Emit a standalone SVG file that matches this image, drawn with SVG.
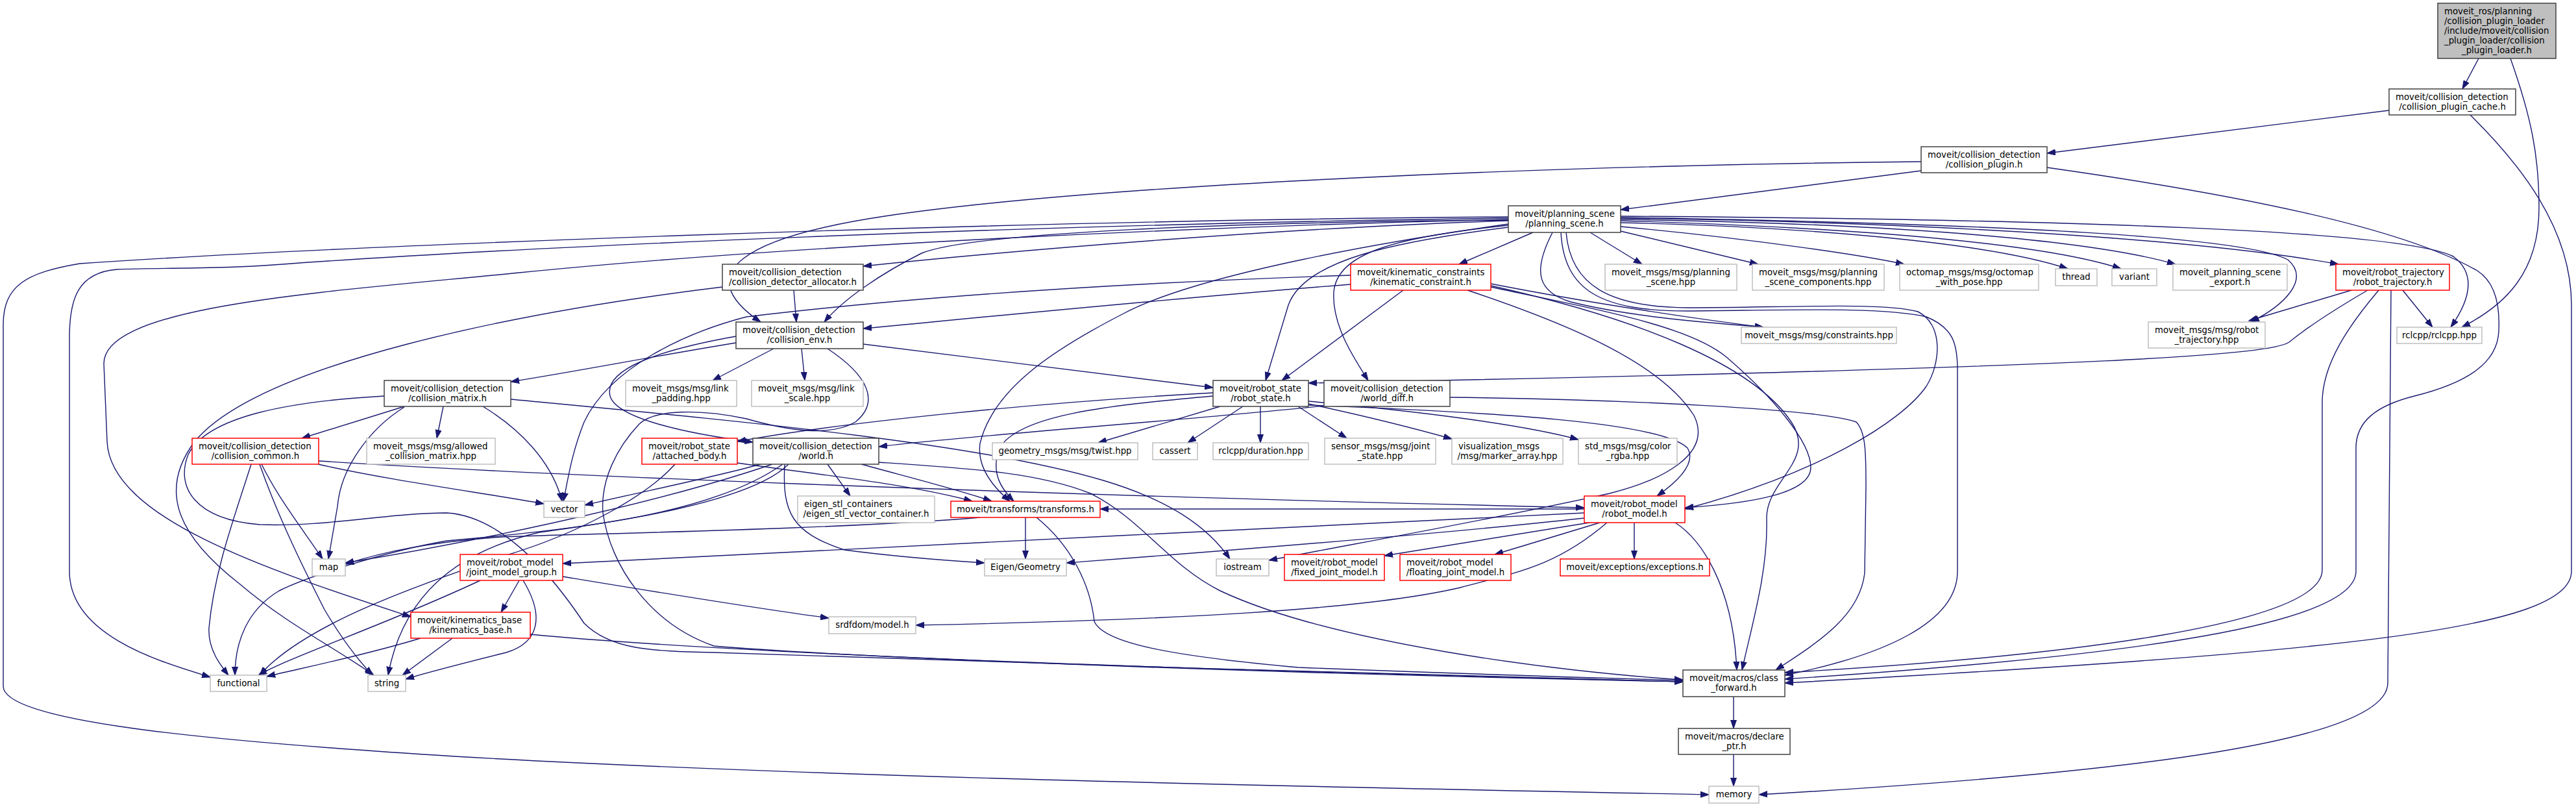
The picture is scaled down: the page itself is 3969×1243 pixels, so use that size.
<svg xmlns="http://www.w3.org/2000/svg" width="3969" height="1243" viewBox="0 0 3969 1243">
<style>
text{font-family:"DejaVu Sans","Liberation Sans",sans-serif;font-size:13.3px;fill:#000}
.m{text-anchor:middle}
.n rect{fill:#fff;stroke:#404040;stroke-width:1.5}
.g rect{fill:#fff;stroke:#bfbfbf;stroke-width:1.5}
.r rect{fill:#fff;stroke:#ff0000;stroke-width:1.5}
.s rect{fill:#bfbfbf;stroke:#404040;stroke-width:1.5}
#edges path{fill:none;stroke:#191970;stroke-width:1.4;marker-end:url(#a)}
</style>
<defs>
<marker id="a" markerUnits="userSpaceOnUse" markerWidth="14" markerHeight="10" refX="13" refY="5" orient="auto"><path d="M0,0.5 L13,5 L0,9.5 z" fill="#191970" stroke="#191970" stroke-width="1"/></marker>
</defs>
<rect x="0" y="0" width="3969" height="1243" fill="#fff"/>
<g id="edges">
<path d="M3819,90 L3794,137"/>
<path d="M3868,90 C3900,180 3912,240 3912,320 C3912,420 3860,470 3793,504"/>
<path d="M3681,170 L3154,236"/>
<path d="M3806,177 C3880,250 3962,350 3962,470 L3962,880 C3962,970 3600,1005 2750,1052"/>
<path d="M2960,263 L2497,323"/>
<path d="M2960,249 C2400,255 1700,283 1363,333 C1150,365 1060,420 1172,496"/>
<path d="M3154,258 C3450,300 3700,350 3817,417 C3845,435 3852,470 3850,510 C3848,560 3800,590 3720,610 C3660,625 3630,650 3630,690 L3630,880 C3630,960 3300,1010 2750,1046"/>
<path d="M2450,358 L2530,407"/>
<path d="M2497,356 L2709,407"/>
<path d="M2497,349 C2700,368 2870,393 2934,407"/>
<path d="M2497,343 C2800,350 3070,375 3186,414"/>
<path d="M2497,340 C2900,352 3160,378 3268,414"/>
<path d="M2497,338 C2950,345 3230,372 3352,407"/>
<path d="M2497,336 C3000,343 3400,370 3603,407"/>
<path d="M2497,333 C3200,338 3700,355 3780,395 C3820,425 3800,470 3776,504"/>
<path d="M2497,335 C3100,345 3460,365 3525,400 C3560,430 3520,470 3468,496"/>
<path d="M2413,358 C2420,440 2480,473 2600,474 C2750,474 2900,465 2955,480 C2995,500 2990,560 2968,595 C2930,650 2800,730 2596,784"/>
<path d="M2405,358 C2410,450 2470,479 2600,479 C2750,478 2900,472 2968,488 C3010,505 3016,530 3016,570 L3016,880 C3016,960 2900,1010 2750,1040"/>
<path d="M2362,358 L2248,407"/>
<path d="M2324,347 C2150,365 2060,390 2055,450 C2052,500 2085,550 2108,586"/>
<path d="M2324,350 C2150,372 2010,400 1985,470 L1950,586"/>
<path d="M2324,345 C2150,370 1850,420 1731,483 C1620,540 1530,600 1510,683 C1505,720 1530,750 1556,772"/>
<path d="M2324,340 C2000,350 1600,382 1330,410"/>
<path d="M2324,339 C1900,342 1500,358 1420,390 C1360,420 1300,460 1270,496"/>
<path d="M2324,338 C1800,350 1200,380 800,420 C500,450 160,470 160,560 L165,680 C170,800 420,880 633,950"/>
<path d="M2324,336 C1600,345 800,380 421,408 C330,415 250,412 180,415 C120,420 107,460 107,520 L107,880 C107,980 250,1020 324,1043"/>
<path d="M2324,334 C1500,340 500,380 123,406 C40,420 5,440 5,500 L5,1057 C5,1110 300,1140 700,1165 C1300,1200 2200,1215 2633,1224"/>
<path d="M2392,358 C2360,420 2370,450 2420,465 C2520,490 2650,498 2717,504"/>
<path d="M2162,447 L1975,586"/>
<path d="M2297,437 C2450,467 2620,492 2717,504"/>
<path d="M2297,442 C2450,475 2600,500 2660,550 C2730,610 2790,680 2790,720 C2790,760 2700,775 2596,782"/>
<path d="M2297,440 C2520,490 2700,560 2760,650 C2800,710 2720,740 2722,800 C2724,880 2700,960 2684,1032"/>
<path d="M2261,447 C2420,500 2560,560 2610,640 C2640,700 2560,740 2480,760 C2300,800 2100,835 1955,863"/>
<path d="M2081,438 C1800,460 1500,490 1330,506"/>
<path d="M2081,424 C1600,440 1300,470 1150,488 C1054,513 939,567 900,650 C880,700 875,740 868,772"/>
<path d="M1223,447 L1227,496"/>
<path d="M1113,442 C800,480 400,560 300,680 C240,760 280,830 370,900 C440,960 520,1000 576,1040"/>
<path d="M1880,626 L1692,682"/>
<path d="M1915,626 L1830,682"/>
<path d="M1942,626 L1942,682"/>
<path d="M2000,626 L2075,675"/>
<path d="M2016,622 C2100,640 2180,660 2237,676"/>
<path d="M2016,618 C2200,635 2350,655 2432,677"/>
<path d="M1869,605 C1600,620 1300,650 1136,680"/>
<path d="M1869,610 C1700,625 1570,640 1540,690 C1525,730 1545,755 1562,772"/>
<path d="M2016,624 C2300,635 2560,650 2600,690 C2615,715 2580,745 2553,764"/>
<path d="M2040,625 C1800,650 1500,670 1354,688"/>
<path d="M2234,612 C2500,615 2806,630 2860,650 C2875,665 2875,700 2875,750 L2873,883 C2865,950 2800,990 2736,1032"/>
<path d="M1192,537 L1098,586"/>
<path d="M1235,537 L1240,586"/>
<path d="M1134,528 C1000,550 900,570 787,588"/>
<path d="M1134,518 C1010,540 930,570 940,610 C950,645 1060,668 1160,681"/>
<path d="M1330,530 L1869,597"/>
<path d="M1275,537 C1340,580 1355,620 1318,650 C1280,672 1220,665 1150,645 C1080,630 1010,630 985,653 C950,690 925,740 929,790 C940,870 1000,960 1100,995 C1400,1020 2200,1040 2593,1050"/>
<path d="M623,626 L465,675"/>
<path d="M683,626 L673,675"/>
<path d="M623,627 C570,660 525,720 520,780 L506,861"/>
<path d="M744,626 C800,660 850,710 866,772"/>
<path d="M787,615 C1100,645 1500,680 1700,740 C1800,770 1860,810 1895,861"/>
<path d="M592,610 C450,618 320,640 290,700 C270,750 300,800 400,808 C500,812 600,790 688,790 C780,795 860,900 900,960 C940,1000 1000,1003 1100,1005 C1500,1020 2200,1040 2593,1050"/>
<path d="M387,715 C360,800 330,880 322,967 C320,1000 340,1025 352,1040"/>
<path d="M400,715 C430,800 470,880 500,939 C530,990 555,1020 574,1040"/>
<path d="M403,715 C430,770 470,820 497,861"/>
<path d="M490,715 C600,740 750,760 838,776"/>
<path d="M491,710 C800,730 1500,760 2441,782"/>
<path d="M1040,715 C1000,760 900,820 774,857 C650,900 470,960 400,1040"/>
<path d="M1136,713 C1250,730 1400,745 1498,772"/>
<path d="M1172,715 C1100,735 1000,755 901,778"/>
<path d="M1190,715 C1000,780 700,840 532,867"/>
<path d="M1206,715 C1100,790 900,815 688,833 C590,850 470,890 430,910 C380,940 362,990 362,1040"/>
<path d="M1215,715 C1150,780 900,810 831,820 C700,850 620,920 598,1040"/>
<path d="M1209,715 C1205,790 1220,820 1301,847 C1400,860 1470,864 1517,867"/>
<path d="M1275,715 L1310,764"/>
<path d="M1327,715 C1400,735 1480,755 1528,772"/>
<path d="M1354,712 C1500,722 1600,728 1680,760 C1760,800 1800,870 1880,910 C2050,990 2400,1035 2593,1047"/>
<path d="M1580,797 L1580,861"/>
<path d="M1597,797 C1650,840 1680,900 1686,957 C1700,990 1800,1010 2000,1028 C2300,1040 2500,1045 2593,1048"/>
<path d="M1510,797 C1300,815 900,822 774,827 C660,835 590,850 532,869"/>
<path d="M2581,805 C2620,830 2670,900 2676,1032"/>
<path d="M2518,805 L2518,861"/>
<path d="M2465,805 L2303,854"/>
<path d="M2455,804 C2300,830 2200,845 2133,856"/>
<path d="M2476,805 C2400,870 2344,880 2250,905 C2100,940 1800,955 1411,963"/>
<path d="M2441,790 C2000,812 1200,850 867,868"/>
<path d="M2441,798 C2200,825 1800,855 1643,867"/>
<path d="M2441,784 L1695,784"/>
<path d="M800,894 L772,943"/>
<path d="M740,894 C600,960 450,1010 398,1040"/>
<path d="M806,894 C840,950 830,990 780,1005 C700,1025 660,1035 625,1046"/>
<path d="M867,888 C1000,910 1150,935 1277,952"/>
<path d="M648,983 C560,1010 460,1030 411,1042"/>
<path d="M697,983 L620,1040"/>
<path d="M817,977 C1000,995 1600,1030 2593,1050"/>
<path d="M2671,1073 L2671,1122"/>
<path d="M2671,1162 L2671,1211"/>
<path d="M3623,447 L3465,494"/>
<path d="M3648,447 C3600,475 3560,500 3527,527 C3500,545 3300,565 2016,590"/>
<path d="M3665,447 C3620,500 3578,560 3578,620 L3578,878 C3578,960 3200,1010 2750,1036"/>
<path d="M3684,447 L3679,1052 C3679,1140 3300,1190 2710,1224"/>
<path d="M3702,447 L3748,504"/>
</g>
<g id="loader" class="s"><rect x="3756" y="5" width="182" height="85"/><text x="3766" y="22">moveit_ros/planning</text><text x="3766" y="37">/collision_plugin_loader</text><text x="3766" y="52">/include/moveit/collision</text><text x="3766" y="67">_plugin_loader/collision</text><text class="m" x="3847" y="82">_plugin_loader.h</text></g>
<g id="cache" class="n"><rect x="3681" y="137" width="195" height="40"/><text x="3691" y="154">moveit/collision_detection</text><text class="m" x="3778.5" y="169">/collision_plugin_cache.h</text></g>
<g id="plugin" class="n"><rect x="2960" y="226" width="194" height="40"/><text x="2970" y="243">moveit/collision_detection</text><text class="m" x="3057" y="258">/collision_plugin.h</text></g>
<g id="planning_scene" class="n"><rect x="2324" y="317" width="173" height="41"/><text x="2334" y="334">moveit/planning_scene</text><text class="m" x="2410.5" y="349">/planning_scene.h</text></g>
<g id="allocator" class="n"><rect x="1113" y="407" width="217" height="40"/><text x="1123" y="424">moveit/collision_detection</text><text class="m" x="1221.5" y="439">/collision_detector_allocator.h</text></g>
<g id="kinematic_constraint" class="r"><rect x="2081" y="407" width="216" height="40"/><text x="2091" y="424">moveit/kinematic_constraints</text><text class="m" x="2189" y="439">/kinematic_constraint.h</text></g>
<g id="ps_msg" class="g"><rect x="2473" y="407" width="203" height="40"/><text x="2483" y="424">moveit_msgs/msg/planning</text><text class="m" x="2574.5" y="439">_scene.hpp</text></g>
<g id="psc_msg" class="g"><rect x="2700" y="407" width="203" height="40"/><text x="2710" y="424">moveit_msgs/msg/planning</text><text class="m" x="2801.5" y="439">_scene_components.hpp</text></g>
<g id="octomap" class="g"><rect x="2927" y="407" width="214" height="40"/><text x="2937" y="424">octomap_msgs/msg/octomap</text><text class="m" x="3034" y="439">_with_pose.hpp</text></g>
<g id="thread" class="g"><rect x="3167" y="414" width="64" height="26"/><text class="m" x="3199" y="431">thread</text></g>
<g id="variant" class="g"><rect x="3254" y="414" width="69" height="26"/><text class="m" x="3288.5" y="431">variant</text></g>
<g id="export" class="g"><rect x="3348" y="407" width="176" height="40"/><text x="3358" y="424">moveit_planning_scene</text><text class="m" x="3436" y="439">_export.h</text></g>
<g id="robot_trajectory" class="r"><rect x="3599" y="407" width="175" height="40"/><text x="3609" y="424">moveit/robot_trajectory</text><text class="m" x="3686.5" y="439">/robot_trajectory.h</text></g>
<g id="rt_msg" class="g"><rect x="3310" y="496" width="180" height="40"/><text x="3320" y="513">moveit_msgs/msg/robot</text><text class="m" x="3400" y="528">_trajectory.hpp</text></g>
<g id="rclcpp" class="g"><rect x="3693" y="504" width="131" height="25"/><text class="m" x="3758.5" y="521">rclcpp/rclcpp.hpp</text></g>
<g id="constraints" class="g"><rect x="2683" y="504" width="239" height="25"/><text class="m" x="2802.5" y="521">moveit_msgs/msg/constraints.hpp</text></g>
<g id="collision_env" class="n"><rect x="1134" y="496" width="196" height="41"/><text x="1144" y="513">moveit/collision_detection</text><text class="m" x="1232" y="528">/collision_env.h</text></g>
<g id="collision_matrix" class="n"><rect x="592" y="586" width="195" height="40"/><text x="602" y="603">moveit/collision_detection</text><text class="m" x="689.5" y="618">/collision_matrix.h</text></g>
<g id="link_padding" class="g"><rect x="964" y="586" width="171" height="40"/><text x="974" y="603">moveit_msgs/msg/link</text><text class="m" x="1049.5" y="618">_padding.hpp</text></g>
<g id="link_scale" class="g"><rect x="1158" y="586" width="172" height="40"/><text x="1168" y="603">moveit_msgs/msg/link</text><text class="m" x="1244" y="618">_scale.hpp</text></g>
<g id="robot_state" class="n"><rect x="1869" y="586" width="147" height="40"/><text x="1879" y="603">moveit/robot_state</text><text class="m" x="1942.5" y="618">/robot_state.h</text></g>
<g id="world_diff" class="n"><rect x="2040" y="586" width="194" height="40"/><text x="2050" y="603">moveit/collision_detection</text><text class="m" x="2137" y="618">/world_diff.h</text></g>
<g id="collision_common" class="r"><rect x="296" y="675" width="195" height="40"/><text x="306" y="692">moveit/collision_detection</text><text class="m" x="393.5" y="707">/collision_common.h</text></g>
<g id="acm" class="g"><rect x="565" y="675" width="198" height="40"/><text x="575" y="692">moveit_msgs/msg/allowed</text><text class="m" x="664" y="707">_collision_matrix.hpp</text></g>
<g id="attached_body" class="r"><rect x="989" y="675" width="147" height="40"/><text x="999" y="692">moveit/robot_state</text><text class="m" x="1062.5" y="707">/attached_body.h</text></g>
<g id="world" class="n"><rect x="1160" y="675" width="194" height="40"/><text x="1170" y="692">moveit/collision_detection</text><text class="m" x="1257" y="707">/world.h</text></g>
<g id="twist" class="g"><rect x="1529" y="682" width="224" height="26"/><text class="m" x="1641" y="699">geometry_msgs/msg/twist.hpp</text></g>
<g id="cassert" class="g"><rect x="1776" y="682" width="69" height="26"/><text class="m" x="1810.5" y="699">cassert</text></g>
<g id="duration" class="g"><rect x="1869" y="682" width="147" height="26"/><text class="m" x="1942.5" y="699">rclcpp/duration.hpp</text></g>
<g id="joint_state" class="g"><rect x="2041" y="675" width="171" height="40"/><text x="2051" y="692">sensor_msgs/msg/joint</text><text class="m" x="2126.5" y="707">_state.hpp</text></g>
<g id="marker_array" class="g"><rect x="2237" y="675" width="171" height="40"/><text x="2247" y="692">visualization_msgs</text><text class="m" x="2322.5" y="707">/msg/marker_array.hpp</text></g>
<g id="color_rgba" class="g"><rect x="2432" y="675" width="152" height="40"/><text x="2442" y="692">std_msgs/msg/color</text><text class="m" x="2508" y="707">_rgba.hpp</text></g>
<g id="vector" class="g"><rect x="838" y="772" width="63" height="25"/><text class="m" x="869.5" y="789">vector</text></g>
<g id="eigen_stl" class="g"><rect x="1229" y="764" width="211" height="41"/><text x="1239" y="781">eigen_stl_containers</text><text class="m" x="1334.5" y="796">/eigen_stl_vector_container.h</text></g>
<g id="transforms" class="r"><rect x="1465" y="772" width="230" height="25"/><text class="m" x="1580" y="789">moveit/transforms/transforms.h</text></g>
<g id="robot_model" class="r"><rect x="2441" y="764" width="155" height="41"/><text x="2451" y="781">moveit/robot_model</text><text class="m" x="2518.5" y="796">/robot_model.h</text></g>
<g id="map" class="g"><rect x="481" y="861" width="51" height="26"/><text class="m" x="506.5" y="878">map</text></g>
<g id="joint_model_group" class="r"><rect x="709" y="854" width="158" height="40"/><text x="719" y="871">moveit/robot_model</text><text class="m" x="788" y="886">/joint_model_group.h</text></g>
<g id="eigen_geometry" class="g"><rect x="1517" y="861" width="126" height="26"/><text class="m" x="1580" y="878">Eigen/Geometry</text></g>
<g id="iostream" class="g"><rect x="1874" y="861" width="81" height="26"/><text class="m" x="1914.5" y="878">iostream</text></g>
<g id="fixed_joint" class="r"><rect x="1979" y="854" width="154" height="40"/><text x="1989" y="871">moveit/robot_model</text><text class="m" x="2056" y="886">/fixed_joint_model.h</text></g>
<g id="floating_joint" class="r"><rect x="2157" y="854" width="171" height="40"/><text x="2167" y="871">moveit/robot_model</text><text class="m" x="2242.5" y="886">/floating_joint_model.h</text></g>
<g id="exceptions" class="r"><rect x="2404" y="861" width="230" height="26"/><text class="m" x="2519" y="878">moveit/exceptions/exceptions.h</text></g>
<g id="kinematics_base" class="r"><rect x="633" y="943" width="184" height="40"/><text x="643" y="960">moveit/kinematics_base</text><text class="m" x="725" y="975">/kinematics_base.h</text></g>
<g id="srdf" class="g"><rect x="1277" y="950" width="134" height="26"/><text class="m" x="1344" y="967">srdfdom/model.h</text></g>
<g id="functional" class="g"><rect x="324" y="1040" width="87" height="25"/><text class="m" x="367.5" y="1057">functional</text></g>
<g id="string" class="g"><rect x="567" y="1040" width="58" height="25"/><text class="m" x="596" y="1057">string</text></g>
<g id="class_forward" class="n"><rect x="2593" y="1032" width="157" height="41"/><text x="2603" y="1049">moveit/macros/class</text><text class="m" x="2671.5" y="1064">_forward.h</text></g>
<g id="declare_ptr" class="n"><rect x="2586" y="1122" width="172" height="40"/><text x="2596" y="1139">moveit/macros/declare</text><text class="m" x="2672" y="1154">_ptr.h</text></g>
<g id="memory" class="g"><rect x="2633" y="1211" width="77" height="26"/><text class="m" x="2671.5" y="1228">memory</text></g>
</svg>
